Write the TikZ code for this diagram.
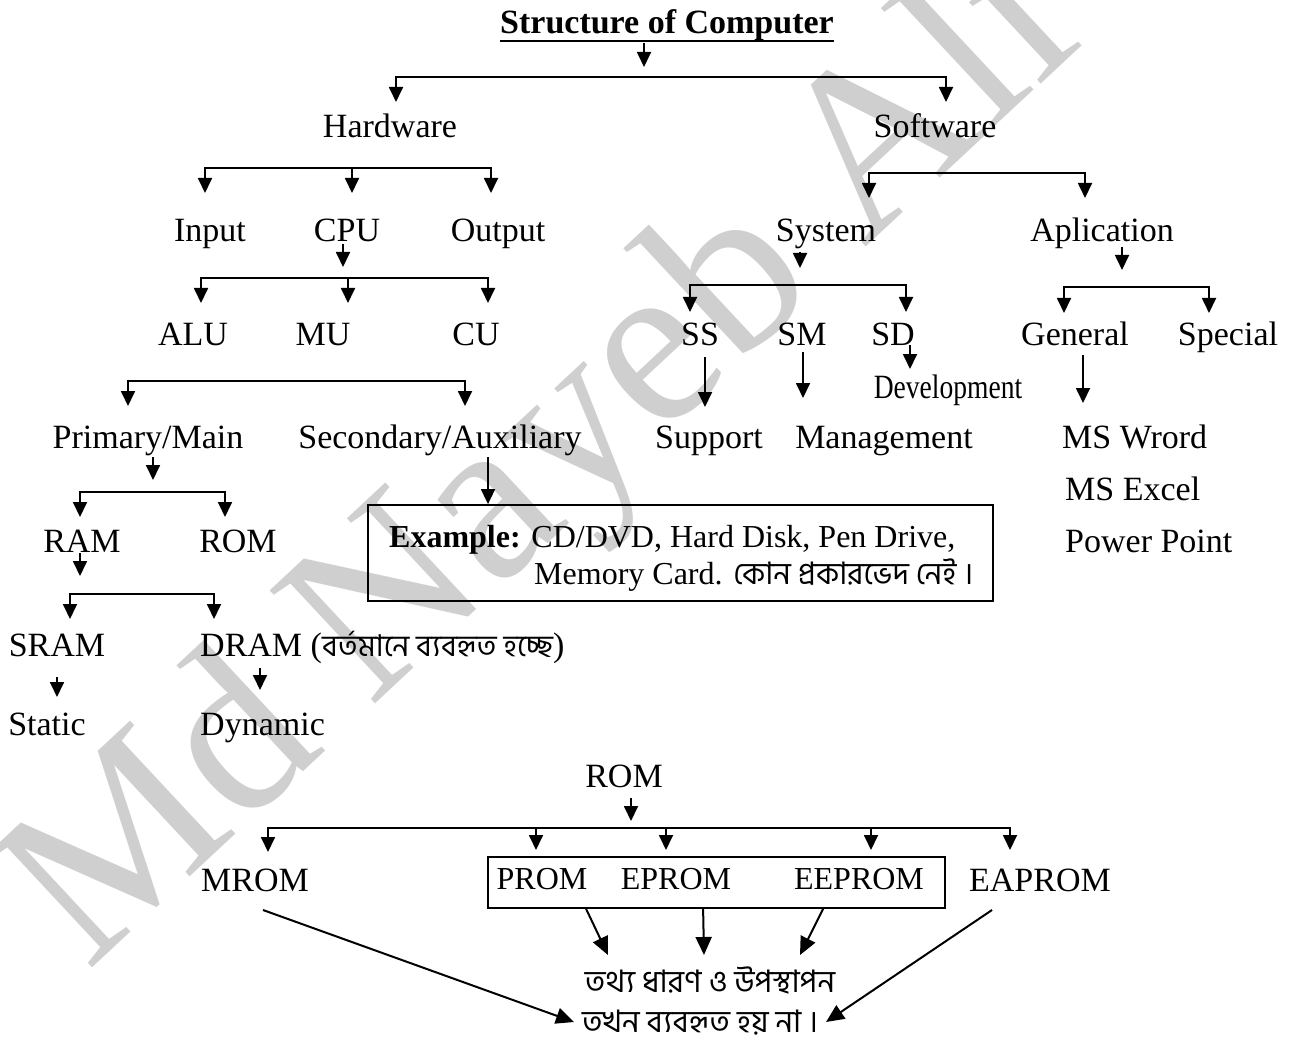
\documentclass[tikz,border=0pt]{standalone}
\usepackage{fontspec}
\setmainfont{Liberation Serif}
\newfontfamily\bn[Script=Bengali]{Hind Siliguri}
\usetikzlibrary{arrows.meta}
\tikzset{
    lbl/.style={font=\fontsize{34}{40}\selectfont, inner sep=0pt, anchor=base},
    sml/.style={font=\fontsize{32}{38}\selectfont, inner sep=0pt, anchor=base},
    bng/.style={font=\fontsize{31}{36}\selectfont\bn, inner sep=0pt},
    bar/.style={line width=1.8pt, line cap=rect},
    arr/.style={line width=1.8pt, -{Triangle[width=14pt,length=15pt]}},
    bigarr/.style={line width=2pt, -{Triangle[width=16pt,length=18pt]}},
}

\begin{document}
\begin{tikzpicture}[x=1pt,y=-1pt]
    \useasboundingbox (0,0) rectangle (1292,1048);
    % watermark
    \node[font=\fontsize{236}{236}\selectfont, text=black!19, rotate=43] (wm) at (548,466) {Md Nayeb Ali};

    % title
    \node[lbl, font=\fontsize{34}{40}\selectfont\bfseries] (title) at (667,34) {Structure of Computer};
    \draw[bar, line cap=butt] ([yshift=-7pt]title.base west) -- ([yshift=-7pt]title.base east);
    \coordinate (t0) at (644,67);
    \draw[arr] ([yshift=-9pt]title.base -| t0) -- (t0);

    % hardware side
    \node[lbl] (hw) at (390,138) {Hardware};
    \node[lbl] (sw) at (935,138) {Software};
    \node[lbl] (in) at (210,242) {Input};
    \node[lbl] (cpu) at (347,242) {CPU};
    \node[lbl] (out) at (498,242) {Output};
    \node[lbl] (alu) at (193,345) {ALU};
    \node[lbl] (mu) at (323,345) {MU};
    \node[lbl] (cu) at (476,345) {CU};
    \node[lbl] (pri) at (148,448) {Primary/Main};
    \node[lbl] (sec) at (440,448) {Secondary/Auxiliary};
    \node[lbl] (ram) at (82,552) {RAM};
    \node[lbl] (rom) at (238,552) {ROM};
    \node[lbl] (sram) at (57,656) {SRAM};
    \node[lbl, anchor=base west] (dram) at (200,656) {DRAM ({\fontsize{30}{36}\selectfont\bn বর্তমানে ব্যবহৃত হচ্ছে})};
    \node[lbl] (stat) at (47,735) {Static};
    \node[lbl, anchor=base west] (dyn) at (200,735) {Dynamic};

    \node[draw, line width=1.8pt, minimum width=625pt, minimum height=96pt, inner sep=0pt] (exbox) at (680.5,553) {};
    \node[sml, anchor=base west] (ex1) at (389,547) {\textbf{Example:} CD/DVD, Hard Disk, Pen Drive,};
    \node[sml, anchor=base west] (ex2) at (534,584) {Memory Card. {\fontsize{31}{36}\selectfont\bn কোন প্রকারভেদ নেই ।}};

    % software side
    \node[lbl] (sys) at (826,242) {System};
    \node[lbl] (app) at (1102,242) {Aplication};
    \node[lbl] (ss) at (700,345) {SS};
    \node[lbl] (sm) at (802,345) {SM};
    \node[lbl] (sd) at (893,345) {SD};
    \node[lbl] (gen) at (1075,345) {General};
    \node[lbl] (spc) at (1228,345) {Special};
    \node[lbl, xscale=0.81] (dev) at (948,398) {Development};
    \node[lbl] (sup) at (709,448) {Support};
    \node[lbl] (mgmt) at (884,448) {Management};
    \node[lbl, anchor=base west] (word) at (1062,448) {MS Wrord};
    \node[lbl, anchor=base west] (excel) at (1065,500) {MS Excel};
    \node[lbl, anchor=base west] (ppt) at (1065,552) {Power Point};

    % ROM types
    \node[lbl] (rom2) at (624,787) {ROM};
    \node[lbl] (mrom) at (255,891) {MROM};
    \node[lbl] (eaprom) at (1040,891) {EAPROM};
    \node[draw, line width=1.8pt, minimum width=457pt, minimum height=51pt, inner sep=0pt] (rbox) at (716.5,882.5) {};
    \node[sml] (prom) at (542,889) {PROM};
    \node[sml] (eprom) at (676,889) {EPROM};
    \node[sml] (eeprom) at (859,889) {EEPROM};
    \node[bng] (hold) at (710,981) {তথ্য ধারণ ও উপস্থাপন};
    \node[bng] (nouse) at (700,1023) {তখন ব্যবহৃত হয় না ।};

    % brackets
    \coordinate (bar0) at (0,77);
    \coordinate (hw-t) at (396,102);
    \coordinate (sw-t) at (946,102);
    \draw[bar] (hw-t |- bar0) -- (sw-t |- bar0);
    \foreach \n in {hw,sw} {
        \draw[arr] (\n-t |- bar0) -- (\n-t);
    };

    \coordinate (bar1) at (0,168);
    \coordinate (in-t) at (205,193);
    \coordinate (cpu-t) at (352,193);
    \coordinate (out-t) at (491,193);
    \draw[bar] (in-t |- bar1) -- (out-t |- bar1);
    \foreach \n in {in,cpu,out} {
        \draw[arr] (\n-t |- bar1) -- (\n-t);
    };

    \coordinate (cpu-d) at (343,267);
    \draw[arr] ([yshift=-2pt]cpu.base -| cpu-d) -- (cpu-d);
    \coordinate (bar2) at (0,278);
    \coordinate (alu-t) at (201,303);
    \coordinate (mu-t) at (348,303);
    \coordinate (cu-t) at (488,303);
    \draw[bar] (alu-t |- bar2) -- (cu-t |- bar2);
    \foreach \n in {alu,mu,cu} {
        \draw[arr] (\n-t |- bar2) -- (\n-t);
    };

    \coordinate (bar3) at (0,381);
    \coordinate (pri-t) at (128,406);
    \coordinate (sec-t) at (465,406);
    \draw[bar] (pri-t |- bar3) -- (sec-t |- bar3);
    \foreach \n in {pri,sec} {
        \draw[arr] (\n-t |- bar3) -- (\n-t);
    };

    \coordinate (pri-d) at (153,480);
    \draw[arr] ([yshift=-9pt]pri.base -| pri-d) -- (pri-d);
    \coordinate (sec-d) at (488,0);
    \draw[arr] ([yshift=-9pt]sec.base -| sec-d) -- (sec-d |- exbox.north);

    \coordinate (bar4) at (0,492);
    \coordinate (ram-t) at (80,517);
    \coordinate (rom-t) at (225,517);
    \draw[bar] (ram-t |- bar4) -- (rom-t |- bar4);
    \foreach \n in {ram,rom} {
        \draw[arr] (\n-t |- bar4) -- (\n-t);
    };

    \coordinate (ram-d) at (80,576);
    \draw[arr] ([yshift=-1pt]ram.base -| ram-d) -- (ram-d);
    \coordinate (bar5) at (0,594);
    \coordinate (sram-t) at (70,619);
    \coordinate (dram-t) at (214,619);
    \draw[bar] (sram-t |- bar5) -- (dram-t |- bar5);
    \foreach \n in {sram,dram} {
        \draw[arr] (\n-t |- bar5) -- (\n-t);
    };
    \coordinate (sram-d) at (57,697);
    \draw[arr] ([yshift=-21pt]sram.base -| sram-d) -- (sram-d);
    \coordinate (dram-d) at (260,690);
    \draw[arr] ([yshift=-12pt]dram.base -| dram-d) -- (dram-d);

    \coordinate (bar6) at (0,173);
    \coordinate (sys-t) at (869,198);
    \coordinate (app-t) at (1085,198);
    \draw[bar] (sys-t |- bar6) -- (app-t |- bar6);
    \foreach \n in {sys,app} {
        \draw[arr] (\n-t |- bar6) -- (\n-t);
    };
    \coordinate (sys-d) at (800,268);
    \draw[arr] ([yshift=-10pt]sys.base -| sys-d) -- (sys-d);
    \coordinate (app-d) at (1122,270);
    \draw[arr] ([yshift=-5pt]app.base -| app-d) -- (app-d);

    \coordinate (bar7) at (0,285);
    \coordinate (ss-t) at (690,312);
    \coordinate (sd-t) at (906,312);
    \draw[bar] (ss-t |- bar7) -- (sd-t |- bar7);
    \foreach \n in {ss,sd} {
        \draw[arr] (\n-t |- bar7) -- (\n-t);
    };
    \coordinate (bar8) at (0,287);
    \coordinate (gen-t) at (1064,313);
    \coordinate (spc-t) at (1209,313);
    \draw[bar] (gen-t |- bar8) -- (spc-t |- bar8);
    \foreach \n in {gen,spc} {
        \draw[arr] (\n-t |- bar8) -- (\n-t);
    };

    \coordinate (ss-d) at (705,407);
    \draw[arr] ([yshift=-12pt]ss.base -| ss-d) -- (ss-d);
    \coordinate (sm-d) at (803,398);
    \draw[arr] ([yshift=-7pt]sm.base -| sm-d) -- (sm-d);
    \coordinate (sd-d) at (910,369);
    \draw[arr] (sd.base -| sd-d) -- (sd-d);
    \coordinate (gen-d) at (1083,403);
    \draw[arr] ([yshift=-10pt]gen.base -| gen-d) -- (gen-d);

    % ROM bracket
    \coordinate (rom2-d) at (631,821);
    \draw[arr] ([yshift=-11pt]rom2.base -| rom2-d) -- (rom2-d);
    \coordinate (bar9) at (0,828);
    \coordinate (mrom-t) at (268,852);
    \coordinate (prom-t) at (536,850);
    \coordinate (eprom-t) at (666,850);
    \coordinate (eeprom-t) at (871,850);
    \coordinate (eaprom-t) at (1010,850);
    \draw[bar] (mrom-t |- bar9) -- (eaprom-t |- bar9);
    \foreach \n in {mrom,prom,eprom,eeprom,eaprom} {
        \draw[arr] (\n-t |- bar9) -- (\n-t);
    };

    \coordinate (h1) at (608,955);
    \coordinate (h2) at (704,955);
    \coordinate (h3) at (800,955);
    \draw[bigarr] ([xshift=99pt]rbox.south west) -- (h1);
    \draw[bigarr] ([xshift=216pt]rbox.south west) -- (h2);
    \draw[bigarr] ([xshift=336pt]rbox.south west) -- (h3);
    \coordinate (n1) at (574,1022);
    \coordinate (n2) at (826,1022);
    \draw[bigarr] ([xshift=8pt,yshift=-19pt]mrom.base) -- (n1);
    \draw[bigarr] ([xshift=-48pt,yshift=-19pt]eaprom.base) -- (n2);
\end{tikzpicture}
\end{document}
